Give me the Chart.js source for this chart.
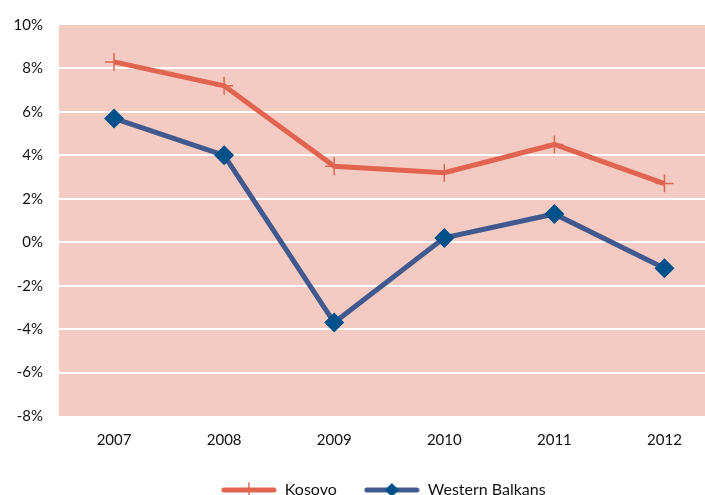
<!DOCTYPE html>
<html>
<head>
<meta charset="utf-8">
<script src="https://cdn.jsdelivr.net/npm/chart.js@4"></script>
<style>
  html, body { margin: 0; padding: 0; background: #fff; overflow: hidden; }
  #wrap { width: 730px; height: 508px; }
</style>
</head>
<body>
<div id="wrap"><canvas id="myChart"></canvas></div>
<script>
const years = ["2007", "2008", "2009", "2010", "2011", "2012"];
const kosovo = [8.3, 7.2, 3.5, 3.2, 4.5, 2.7];
const westernBalkans = [5.7, 4.0, -3.7, 0.2, 1.3, -1.2];

const redLine = "#E0644F";
const blueLine = "#41598F";
const blueMark = "#00508A";

// small picture for the legend: line with the marker in the middle
function legendIcon(lineColor, markColor, kind) {
  const c = document.createElement("canvas");
  c.width = 56; c.height = 16;
  const g = c.getContext("2d");
  g.strokeStyle = lineColor;
  g.lineWidth = 5;
  g.lineCap = "round";
  g.beginPath(); g.moveTo(3, 8); g.lineTo(53, 8); g.stroke();
  if (kind === "cross") {
    g.lineWidth = 1.5;
    g.beginPath(); g.moveTo(28, 1); g.lineTo(28, 15); g.stroke();
  } else {
    g.fillStyle = markColor;
    g.beginPath(); g.moveTo(28, 1); g.lineTo(35, 8); g.lineTo(28, 15); g.lineTo(21, 8); g.closePath(); g.fill();
  }
  return c;
}

const plotBg = {
  id: "plotBg",
  beforeDraw(chart) {
    const a = chart.chartArea;
    chart.ctx.save();
    chart.ctx.fillStyle = "#F4CBC2";
    chart.ctx.fillRect(a.left, a.top, a.right - a.left, a.bottom - a.top);
    chart.ctx.restore();
  }
};

// nudge the legend a little to the left
const legendShift = {
  id: "legendShift",
  afterLayout(chart) {
    chart.legend.left -= 6;
    chart.legend.right -= 6;
  }
};

var ctx = document.getElementById("myChart").getContext("2d");
var myChart = new Chart(ctx, {
  type: "line",
  data: {
    labels: years,
    datasets: [
      {
        label: "Kosovo",
        data: kosovo,
        borderColor: redLine,
        backgroundColor: redLine,
        borderWidth: 5,
        pointStyle: "cross",
        pointRadius: 9,
        pointBorderWidth: 1.5,
        pointBorderColor: redLine,
        tension: 0,
        legendIcon: legendIcon(redLine, redLine, "cross")
      },
      {
        label: "Western Balkans",
        data: westernBalkans,
        borderColor: blueLine,
        backgroundColor: blueMark,
        borderWidth: 5,
        pointStyle: "rectRot",
        pointRadius: 10,
        pointBorderWidth: 0,
        pointBackgroundColor: blueMark,
        tension: 0,
        legendIcon: legendIcon(blueLine, blueMark, "diamond")
      }
    ]
  },
  options: {
    responsive: true,
    maintainAspectRatio: false,
    animation: false,
    layout: { padding: { top: 14, left: 0, right: 0, bottom: 0 } },
    plugins: {
      tooltip: { enabled: false },
      legend: {
        position: "bottom",
        fullSize: false,
        labels: {
          usePointStyle: true,
          pointStyleWidth: 56,
          color: "#111",
          font: { family: "Lato", size: 16 },
          padding: 27,
          generateLabels(chart) {
            return chart.data.datasets.map((ds, i) => ({
              text: ds.label,
              pointStyle: ds.legendIcon,
              fillStyle: ds.borderColor,
              strokeStyle: ds.borderColor,
              lineWidth: 0,
              hidden: false,
              datasetIndex: i,
              fontColor: "#111"
            }));
          }
        }
      }
    },
    scales: {
      x: {
        offset: true,
        grid: { display: false, drawTicks: false },
        border: { display: false },
        ticks: { color: "#111", font: { family: "Lato", size: 15 }, padding: 15 },
        afterFit(scale) { scale.height = 39; }
      },
      y: {
        min: -8,
        max: 10,
        grid: {
          color: (c) => (c.tick.value === -8 || c.tick.value === 10) ? "rgba(0,0,0,0)" : "#ffffff",
          lineWidth: 2,
          drawTicks: false
        },
        border: { display: false },
        ticks: {
          stepSize: 2,
          color: "#111",
          font: { family: "Lato", size: 15 },
          padding: 16,
          callback: (v) => v + "%"
        },
        afterFit(scale) { scale.width = 59; }
      }
    }
  },
  plugins: [plotBg, legendShift]
});
</script>
</body>
</html>
